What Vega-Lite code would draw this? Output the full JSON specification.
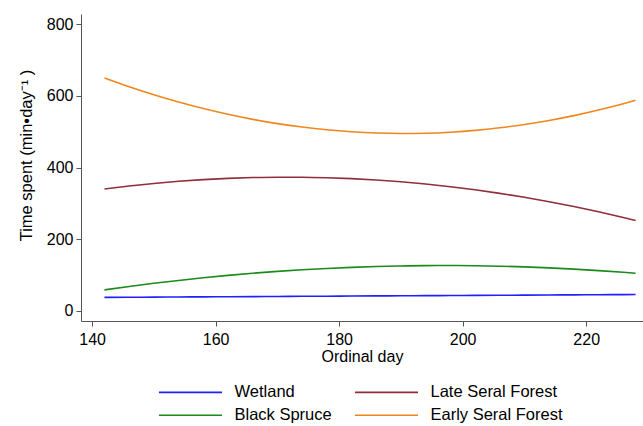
{
  "$schema": "https://vega.github.io/schema/vega-lite/v6.json",
  "autosize": {"type": "none"},
  "padding": {"left": 81, "top": 14, "right": 0, "bottom": 105},
  "width": 562,
  "height": 307,
  "background": "white",
  "config": {
    "font": "Liberation Sans",
    "view": {"stroke": null}
  },
  "data": {
    "values": [
      {"d":142,"s":"Wetland","v":37.0},{"d":146,"s":"Wetland","v":37.4},{"d":150,"s":"Wetland","v":37.7},{"d":154,"s":"Wetland","v":38.1},{"d":158,"s":"Wetland","v":38.5},{"d":162,"s":"Wetland","v":38.9},{"d":166,"s":"Wetland","v":39.2},{"d":170,"s":"Wetland","v":39.6},{"d":174,"s":"Wetland","v":40.0},{"d":178,"s":"Wetland","v":40.3},{"d":182,"s":"Wetland","v":40.7},{"d":186,"s":"Wetland","v":41.1},{"d":190,"s":"Wetland","v":41.5},{"d":194,"s":"Wetland","v":41.8},{"d":198,"s":"Wetland","v":42.2},{"d":202,"s":"Wetland","v":42.6},{"d":206,"s":"Wetland","v":43.0},{"d":210,"s":"Wetland","v":43.3},{"d":214,"s":"Wetland","v":43.7},{"d":218,"s":"Wetland","v":44.1},{"d":222,"s":"Wetland","v":44.4},{"d":226,"s":"Wetland","v":44.8},{"d":228,"s":"Wetland","v":45.0},
      {"d":142,"s":"Late Seral Forest","v":339.9},{"d":146,"s":"Late Seral Forest","v":348.3},{"d":150,"s":"Late Seral Forest","v":355.4},{"d":154,"s":"Late Seral Forest","v":361.4},{"d":158,"s":"Late Seral Forest","v":366.1},{"d":162,"s":"Late Seral Forest","v":369.6},{"d":166,"s":"Late Seral Forest","v":371.9},{"d":170,"s":"Late Seral Forest","v":372.9},{"d":174,"s":"Late Seral Forest","v":372.8},{"d":178,"s":"Late Seral Forest","v":371.4},{"d":182,"s":"Late Seral Forest","v":368.8},{"d":186,"s":"Late Seral Forest","v":365.0},{"d":190,"s":"Late Seral Forest","v":360.0},{"d":194,"s":"Late Seral Forest","v":353.8},{"d":198,"s":"Late Seral Forest","v":346.3},{"d":202,"s":"Late Seral Forest","v":337.7},{"d":206,"s":"Late Seral Forest","v":327.8},{"d":210,"s":"Late Seral Forest","v":316.7},{"d":214,"s":"Late Seral Forest","v":304.4},{"d":218,"s":"Late Seral Forest","v":290.8},{"d":222,"s":"Late Seral Forest","v":276.1},{"d":226,"s":"Late Seral Forest","v":260.1},{"d":228,"s":"Late Seral Forest","v":251.7},
      {"d":142,"s":"Black Spruce","v":57.9},{"d":146,"s":"Black Spruce","v":67.5},{"d":150,"s":"Black Spruce","v":76.3},{"d":154,"s":"Black Spruce","v":84.4},{"d":158,"s":"Black Spruce","v":91.8},{"d":162,"s":"Black Spruce","v":98.4},{"d":166,"s":"Black Spruce","v":104.4},{"d":170,"s":"Black Spruce","v":109.6},{"d":174,"s":"Black Spruce","v":114.1},{"d":178,"s":"Black Spruce","v":117.9},{"d":182,"s":"Black Spruce","v":120.9},{"d":186,"s":"Black Spruce","v":123.3},{"d":190,"s":"Black Spruce","v":124.9},{"d":194,"s":"Black Spruce","v":125.8},{"d":198,"s":"Black Spruce","v":126.0},{"d":202,"s":"Black Spruce","v":125.4},{"d":206,"s":"Black Spruce","v":124.2},{"d":210,"s":"Black Spruce","v":122.2},{"d":214,"s":"Black Spruce","v":119.5},{"d":218,"s":"Black Spruce","v":116.1},{"d":222,"s":"Black Spruce","v":111.9},{"d":226,"s":"Black Spruce","v":107.1},{"d":228,"s":"Black Spruce","v":104.4},
      {"d":142,"s":"Early Seral Forest","v":650.2},{"d":146,"s":"Early Seral Forest","v":625.7},{"d":150,"s":"Early Seral Forest","v":603.3},{"d":154,"s":"Early Seral Forest","v":582.9},{"d":158,"s":"Early Seral Forest","v":564.7},{"d":162,"s":"Early Seral Forest","v":548.6},{"d":166,"s":"Early Seral Forest","v":534.6},{"d":170,"s":"Early Seral Forest","v":522.7},{"d":174,"s":"Early Seral Forest","v":513.0},{"d":178,"s":"Early Seral Forest","v":505.3},{"d":182,"s":"Early Seral Forest","v":499.8},{"d":186,"s":"Early Seral Forest","v":496.3},{"d":190,"s":"Early Seral Forest","v":495.0},{"d":194,"s":"Early Seral Forest","v":495.8},{"d":198,"s":"Early Seral Forest","v":498.7},{"d":202,"s":"Early Seral Forest","v":503.7},{"d":206,"s":"Early Seral Forest","v":510.9},{"d":210,"s":"Early Seral Forest","v":520.1},{"d":214,"s":"Early Seral Forest","v":531.4},{"d":218,"s":"Early Seral Forest","v":544.9},{"d":222,"s":"Early Seral Forest","v":560.5},{"d":226,"s":"Early Seral Forest","v":578.2},{"d":228,"s":"Early Seral Forest","v":587.8}
    ]
  },
  "mark": {"type": "line", "interpolate": "monotone", "strokeWidth": 1.6},
  "encoding": {
    "x": {
      "field": "d", "type": "quantitative",
      "scale": {"domain": [138.2, 229.2], "nice": false, "zero": false},
      "axis": {
        "title": "Ordinal day", "values": [140, 160, 180, 200, 220],
        "grid": false, "domainColor": "#555555", "tickColor": "#555555", "tickSize": 5,
        "labelFontSize": 16, "labelColor": "#000000", "labelPadding": 5,
        "titleFontSize": 16, "titleFontWeight": "normal", "titleColor": "#000000", "titlePadding": 1,
        "labelFlush": false
      }
    },
    "y": {
      "field": "v", "type": "quantitative",
      "scale": {"domain": [-29, 829], "nice": false, "zero": false},
      "axis": {
        "title": "Time spent (min•day⁻¹ )", "values": [0, 200, 400, 600, 800],
        "grid": false, "domainColor": "#555555", "tickColor": "#555555", "tickSize": 5,
        "labelFontSize": 16, "labelColor": "#000000", "labelPadding": 3,
        "titleFontSize": 16.5, "titleFontWeight": "normal", "titleColor": "#000000", "titlePadding": 12,
        "titleY": 141,
        "labelFlush": false
      }
    },
    "color": {
      "field": "s", "type": "nominal",
      "scale": {
        "domain": ["Wetland", "Late Seral Forest", "Black Spruce", "Early Seral Forest"],
        "range": ["#1f1fff", "#8e2f3a", "#1a8a1a", "#f0861c"]
      },
      "legend": {
        "title": null, "orient": "none", "legendX": 76, "legendY": 370,
        "direction": "horizontal", "columns": 2,
        "symbolType": "M-1,0H9", "symbolSize": 159, "symbolStrokeWidth": 1.6,
        "labelFontSize": 16.5, "labelColor": "#000000", "labelOffset": 61,
        "columnPadding": 19, "rowPadding": 6
      }
    }
  }
}
